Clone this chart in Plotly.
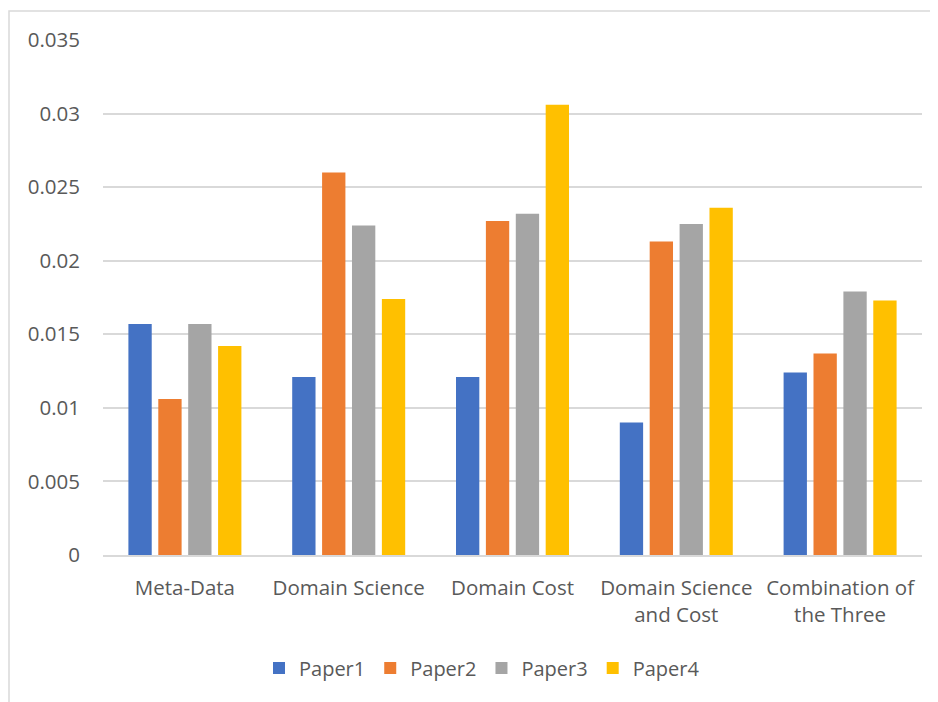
import plotly.graph_objects as go

categories = ["Meta-Data", "Domain Science", "Domain Cost", "Domain Science<br>and Cost", "Combination of<br>the Three"]
paper1 = [0.0157, 0.0121, 0.0121, 0.0090, 0.0124]
paper2 = [0.0106, 0.0260, 0.0227, 0.0213, 0.0137]
paper3 = [0.0157, 0.0224, 0.0232, 0.0225, 0.0179]
paper4 = [0.0142, 0.0174, 0.0306, 0.0236, 0.0173]
series_names = ["Paper1", "Paper2", "Paper3", "Paper4"]
colors = ["#4472C4", "#ED7D31", "#A5A5A5", "#FFC000"]
y_ticks = [0, 0.005, 0.01, 0.015, 0.02, 0.025, 0.03, 0.035]
y_tick_labels = ["0", "0.005", "0.01", "0.015", "0.02", "0.025", "0.03", "0.035"]

fig = go.Figure()
for name, vals, col in zip(series_names, [paper1, paper2, paper3, paper4], colors):
    fig.add_trace(go.Bar(x=categories, y=vals, name=name, marker_color=col,
                         marker_line_width=0))

OFF = 8  # page body margin
W, H = 938 - OFF, 702 - OFF
# target pixel coords in the window
L, Rpx, T, Bpx = 103, 922, 40, 555
pw, ph = Rpx - L, Bpx - T

def px(x):
    return (x - L) / pw

def py(y):
    return (Bpx - y) / ph

fig.update_layout(
    width=W, height=H,
    margin=dict(l=L - OFF, r=W - (Rpx - OFF), t=T - OFF, b=H - (Bpx - OFF)),
    paper_bgcolor="white", plot_bgcolor="white",
    font=dict(family="Open Sans", size=20.5, color="#595959"),
    barmode="group", bargap=0.27, bargroupgap=0.22,
    showlegend=True,
    legend=dict(orientation="h", x=px(482), xanchor="center", y=py(668), yanchor="middle",
                font=dict(size=20, color="#595959"), itemwidth=30, traceorder="normal"),
    xaxis=dict(showgrid=False, showline=True, linecolor="#d9d9d9", linewidth=1.5,
               ticks="", ticklabelstandoff=14, tickfont=dict(size=20.5, color="#595959")),
    yaxis=dict(range=[0, 0.035], tickvals=y_ticks, ticktext=y_tick_labels,
               showgrid=True, gridcolor="#d9d9d9", gridwidth=1.5, zeroline=False,
               showline=False, ticks="", ticklabelstandoff=22,
               tickfont=dict(size=20.5, color="#595959")),
    shapes=[dict(type="rect", xref="paper", yref="paper",
                 x0=px(9), x1=px(950), y0=py(720), y1=py(11),
                 line=dict(color="#d9d9d9", width=1.5), fillcolor="rgba(0,0,0,0)", layer="below")],
)

fig.write_html("out.html")
